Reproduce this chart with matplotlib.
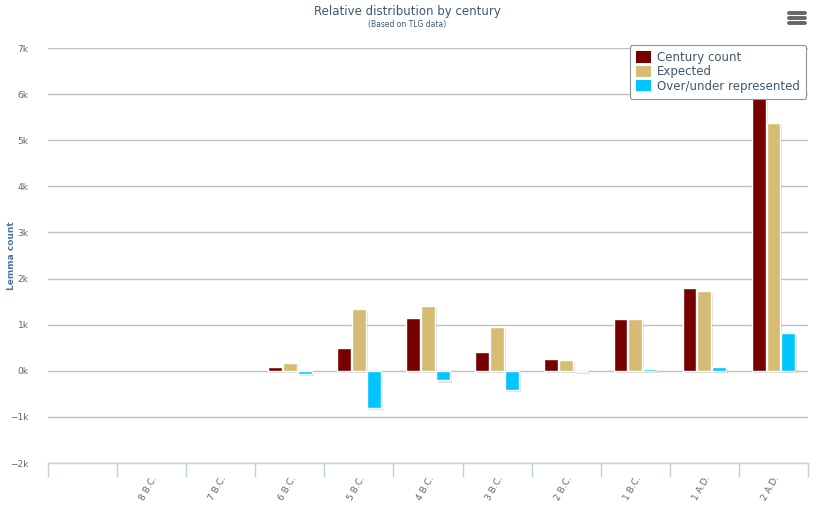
import matplotlib

matplotlib.use("Agg")
import matplotlib.pyplot as plt
import matplotlib.patheffects as pe
from matplotlib.lines import Line2D
from matplotlib.patches import Patch
import numpy as np


CENTURIES = ["", "8 B.C.", "7 B.C.", "6 B.C.", "5 B.C.", "4 B.C.", "3 B.C.",
             "2 B.C.", "1 B.C.", "1 A.D.", "2 A.D."]
CENTURY_COUNT = [0, 0, 0, 80, 500, 1150, 410, 260, 1130, 1800, 6150]
EXPECTED = [0, 0, 0, 160, 1330, 1400, 955, 240, 1120, 1720, 5370]
OVER_UNDER = [0, 0, 0, -60, -800, -210, -420, -15, 35, 80, 810]

SERIES = [
    ("Century count", CENTURY_COUNT, "#770000"),
    ("Expected", EXPECTED, "#d5bb73"),
    ("Over/under represented", OVER_UNDER, "#00c5ff"),
]

Y_TICKS = [-2000, -1000, 0, 1000, 2000, 3000, 4000, 5000, 6000, 7000]
Y_LABELS = ["−2k", "−1k", "0k", "1k", "2k", "3k", "4k", "5k", "6k", "7k"]

TEXT_COLOR = "#3e576f"
LABEL_COLOR = "#666666"


def main():
    plt.rcParams["font.family"] = ["DejaVu Sans"]

    fig = plt.figure(figsize=(8.15, 5.11), dpi=100)
    ax = fig.add_axes([48 / 815, 1 - 463 / 511, 760 / 815, 415 / 511])

    x = np.arange(len(CENTURIES))
    width = 0.2
    offsets = [-0.215, 0.0, 0.215]
    shadow = [pe.SimplePatchShadow(offset=(1.5, -1.5), shadow_rgbFace="#000000", alpha=0.12), pe.Normal()]

    for (name, values, color), off in zip(SERIES, offsets):
        bars = ax.bar(x + off, values, width, color=color, edgecolor="white",
                      linewidth=1, label=name, zorder=3)
        for bar in bars:
            if bar.get_height() != 0:
                bar.set_path_effects(shadow)
            else:
                bar.set_visible(False)

    ax.set_xlim(-0.5, len(CENTURIES) - 0.5)
    ax.set_ylim(-2000, 7000)

    ax.set_yticks(Y_TICKS)
    ax.set_yticklabels(Y_LABELS)
    ax.yaxis.grid(True, color="#c0c0c0", linewidth=1, zorder=0)
    ax.tick_params(axis="y", length=0, labelsize=6.5, labelcolor=LABEL_COLOR, pad=14)

    ax.set_xticks(x)
    ax.set_xticklabels(CENTURIES, rotation=60, ha="right", va="top",
                       rotation_mode="anchor", fontsize=6.5, color=LABEL_COLOR)
    ax.tick_params(axis="x", length=0, pad=8)
    ax.set_xticks(np.arange(-0.5, len(CENTURIES)), minor=True)
    ax.tick_params(axis="x", which="minor", length=10, width=1, color="#c0d0e0", direction="out")

    for side in ["top", "right", "left"]:
        ax.spines[side].set_visible(False)
    ax.spines["bottom"].set_color("#c0d0e0")
    ax.spines["bottom"].set_linewidth(1)

    ax.set_ylabel("Lemma count", fontsize=6.5, color="#4d759e", fontweight="bold")
    ax.yaxis.set_label_coords(-32 / 760, 0.5)

    fig.text(0.5, 1 - 12 / 511, "Relative distribution by century", ha="center", va="center",
             fontsize=8.5, color=TEXT_COLOR)
    fig.text(0.5, 1 - 24 / 511, "(Based on TLG data)", ha="center", va="center",
             fontsize=5.5, color=TEXT_COLOR)

    # menu icon
    for y_px in [13, 18, 23]:
        fig.add_artist(Line2D([789 / 815, 805 / 815], [1 - y_px / 511] * 2,
                              color="#666666", linewidth=2.8, solid_capstyle="round"))

    handles = [Patch(facecolor=c, edgecolor="none", label=n) for n, _, c in SERIES]
    legend = ax.legend(handles=handles, loc="upper right", bbox_to_anchor=(806 / 815, 1 - 45 / 511),
                       bbox_transform=fig.transFigure, fontsize=8.5, frameon=True,
                       fancybox=True, handlelength=1.3, handleheight=1.1, handletextpad=0.5,
                       labelspacing=0.12, borderpad=0.5, borderaxespad=0)
    legend.get_frame().set_edgecolor("#909090")
    legend.get_frame().set_linewidth(0.8)
    legend.get_frame().set_alpha(1)
    for text in legend.get_texts():
        text.set_color(TEXT_COLOR)
    legend.set_zorder(5)

    fig.savefig("out.png", dpi=100)
    plt.close(fig)


if __name__ == "__main__":
    main()
